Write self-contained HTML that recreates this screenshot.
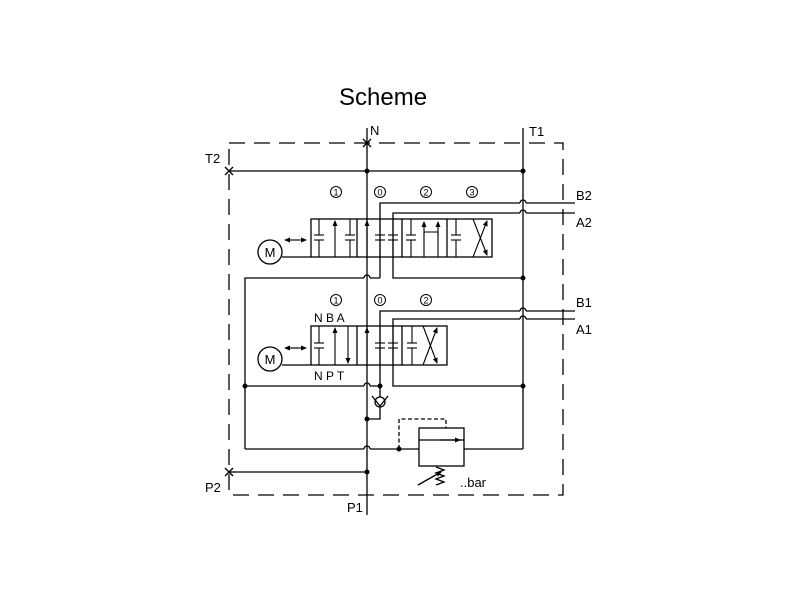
<!DOCTYPE html>
<html><head><meta charset="utf-8"><style>
html,body{margin:0;padding:0;background:#fff;width:800px;height:600px;overflow:hidden}
svg{display:block}
text{font-family:"Liberation Sans",sans-serif;fill:#000}
</style></head><body>
<svg width="800" height="600" viewBox="0 0 800 600" xmlns="http://www.w3.org/2000/svg">
<defs>
<marker id="ah" markerWidth="6" markerHeight="6" refX="5" refY="3" orient="auto" markerUnits="userSpaceOnUse"><path d="M0,0.5 L6,3 L0,5.5z" fill="#000"/></marker>
</defs>
<text x="339" y="105" font-size="24">Scheme</text>
<g stroke="#000" stroke-width="1.3" fill="none">
<path d="M229,143 H563 V495 H229 Z" stroke-dasharray="16,9"/>
<line x1="367" y1="128" x2="367" y2="515"/>
<line x1="363" y1="139" x2="371" y2="147"/><line x1="371" y1="139" x2="363" y2="147"/>
<line x1="523" y1="128" x2="523" y2="449"/>
<line x1="229" y1="171" x2="523" y2="171"/>
<line x1="225" y1="167" x2="233" y2="175"/><line x1="233" y1="167" x2="225" y2="175"/>
<rect x="311" y="219" width="181" height="38"/>
<line x1="357" y1="219" x2="357" y2="257"/>
<line x1="402" y1="219" x2="402" y2="257"/>
<line x1="447" y1="219" x2="447" y2="257"/>
<path d="M380,278 V203 H520 M526,203 H575"/>
<path d="M520,203 a3,3 0 0 1 6,0"/>
<path d="M393,257 V213 H520 M526,213 H575"/>
<path d="M520,213 a3,3 0 0 1 6,0"/>
<path d="M393,257 V278 H523"/>
<path d="M245,449 V278 H364 M370,278 H380"/>
<path d="M364,278 a3,3 0 0 1 6,0"/>
<rect x="311" y="326" width="136" height="39"/>
<line x1="357" y1="326" x2="357" y2="365"/>
<line x1="402" y1="326" x2="402" y2="365"/>
<path d="M380,386 V311 H520 M526,311 H575"/>
<path d="M520,311 a3,3 0 0 1 6,0"/>
<path d="M393,365 V319 H520 M526,319 H575"/>
<path d="M520,319 a3,3 0 0 1 6,0"/>
<path d="M393,365 V386 H523"/>
<path d="M245,386 H364 M370,386 H380"/>
<path d="M364,386 a3,3 0 0 1 6,0"/>
<line x1="380" y1="386" x2="380" y2="397"/>
<circle cx="380" cy="402" r="5"/>
<path d="M372,396 L380,406 L388,396"/>
<path d="M380,407 V419 H367"/>
<path d="M245,449 H364 M370,449 H419"/>
<path d="M364,449 a3,3 0 0 1 6,0"/>
<path d="M464,449 H523"/>
<rect x="419" y="428" width="45" height="38"/>
<line x1="419" y1="440" x2="464" y2="440"/>
<line x1="440" y1="440" x2="460" y2="440" marker-end="url(#ah)"/>
<path d="M399,449 V419 H446 V428" stroke-dasharray="4,2.5"/>
<path d="M436,467 l8,3 l-8,3 l8,3 l-8,3 l8,3 l-8,3"/>
<line x1="418" y1="485" x2="441" y2="472" marker-end="url(#ah)"/>
<line x1="229" y1="472" x2="367" y2="472"/>
<line x1="225" y1="468" x2="233" y2="476"/><line x1="233" y1="468" x2="225" y2="476"/>
<circle cx="270" cy="252" r="12"/>
<path d="M282,257 H311"/>
<circle cx="270" cy="359" r="12"/>
<path d="M282,365 H311"/>
</g>
<g stroke="#000" stroke-width="1.1" fill="none">
<line x1="291" y1="240" x2="306" y2="240" marker-end="url(#ah)"/>
<line x1="298" y1="240" x2="285" y2="240" marker-end="url(#ah)"/>
<line x1="291" y1="348" x2="306" y2="348" marker-end="url(#ah)"/>
<line x1="298" y1="348" x2="285" y2="348" marker-end="url(#ah)"/>
<g id="cap">
<line x1="319" y1="219" x2="319" y2="235"/><line x1="314" y1="235" x2="324" y2="235"/>
<line x1="314" y1="240" x2="324" y2="240"/><line x1="319" y1="240" x2="319" y2="257"/>
</g>
<use href="#cap" x="31"/>
<use href="#cap" x="61"/>
<use href="#cap" x="74"/>
<use href="#cap" x="92"/>
<use href="#cap" x="137"/>
<line x1="335" y1="257" x2="335" y2="221" marker-end="url(#ah)"/>
<line x1="367" y1="257" x2="367" y2="221" marker-end="url(#ah)"/>
<path d="M424,257 V232 M438,257 V232 M424,232 H438" />
<line x1="424" y1="236" x2="424" y2="222" marker-end="url(#ah)"/>
<line x1="438" y1="236" x2="438" y2="222" marker-end="url(#ah)"/>
<line x1="473" y1="257" x2="487" y2="221" marker-end="url(#ah)"/>
<line x1="473" y1="219" x2="487" y2="255" marker-end="url(#ah)"/>
<g id="cap2">
<line x1="319" y1="326" x2="319" y2="343"/><line x1="314" y1="343" x2="324" y2="343"/>
<line x1="314" y1="348" x2="324" y2="348"/><line x1="319" y1="348" x2="319" y2="365"/>
</g>
<use href="#cap2" x="61"/>
<use href="#cap2" x="74"/>
<use href="#cap2" x="93"/>
<line x1="335" y1="365" x2="335" y2="328" marker-end="url(#ah)"/>
<line x1="348" y1="326" x2="348" y2="363" marker-end="url(#ah)"/>
<line x1="367" y1="365" x2="367" y2="328" marker-end="url(#ah)"/>
<line x1="423" y1="365" x2="437" y2="328" marker-end="url(#ah)"/>
<line x1="423" y1="326" x2="437" y2="363" marker-end="url(#ah)"/>
</g>
<g fill="#000">
<circle cx="367" cy="171" r="2.5"/><circle cx="523" cy="171" r="2.5"/>
<circle cx="523" cy="278" r="2.5"/><circle cx="245" cy="386" r="2.5"/>
<circle cx="380" cy="386" r="2.5"/><circle cx="523" cy="386" r="2.5"/>
<circle cx="367" cy="419" r="2.5"/><circle cx="399" cy="449" r="2.5"/>
<circle cx="367" cy="472" r="2.5"/>
</g>
<g font-size="13">
<text x="370" y="135">N</text>
<text x="529" y="136">T1</text>
<text x="205" y="163">T2</text>
<text x="205" y="492">P2</text>
<text x="347" y="512">P1</text>
<text x="576" y="200">B2</text>
<text x="576" y="227">A2</text>
<text x="576" y="307">B1</text>
<text x="576" y="334">A1</text>
<text x="314" y="322" font-size="12">N B A</text>
<text x="314" y="380" font-size="12">N P T</text>
<text x="460" y="487" font-size="13">..bar</text>
<text x="270" y="257" font-size="13" text-anchor="middle">M</text>
<text x="270" y="364" font-size="13" text-anchor="middle">M</text>
</g>
<g font-size="9" text-anchor="middle">
<circle cx="336" cy="192" r="5.5" fill="none" stroke="#000"/><text x="336" y="195.5">1</text>
<circle cx="380" cy="192" r="5.5" fill="none" stroke="#000"/><text x="380" y="195.5">0</text>
<circle cx="426" cy="192" r="5.5" fill="none" stroke="#000"/><text x="426" y="195.5">2</text>
<circle cx="472" cy="192" r="5.5" fill="none" stroke="#000"/><text x="472" y="195.5">3</text>
<circle cx="336" cy="300" r="5.5" fill="none" stroke="#000"/><text x="336" y="303.5">1</text>
<circle cx="380" cy="300" r="5.5" fill="none" stroke="#000"/><text x="380" y="303.5">0</text>
<circle cx="426" cy="300" r="5.5" fill="none" stroke="#000"/><text x="426" y="303.5">2</text>
</g>
</svg>
</body></html>
